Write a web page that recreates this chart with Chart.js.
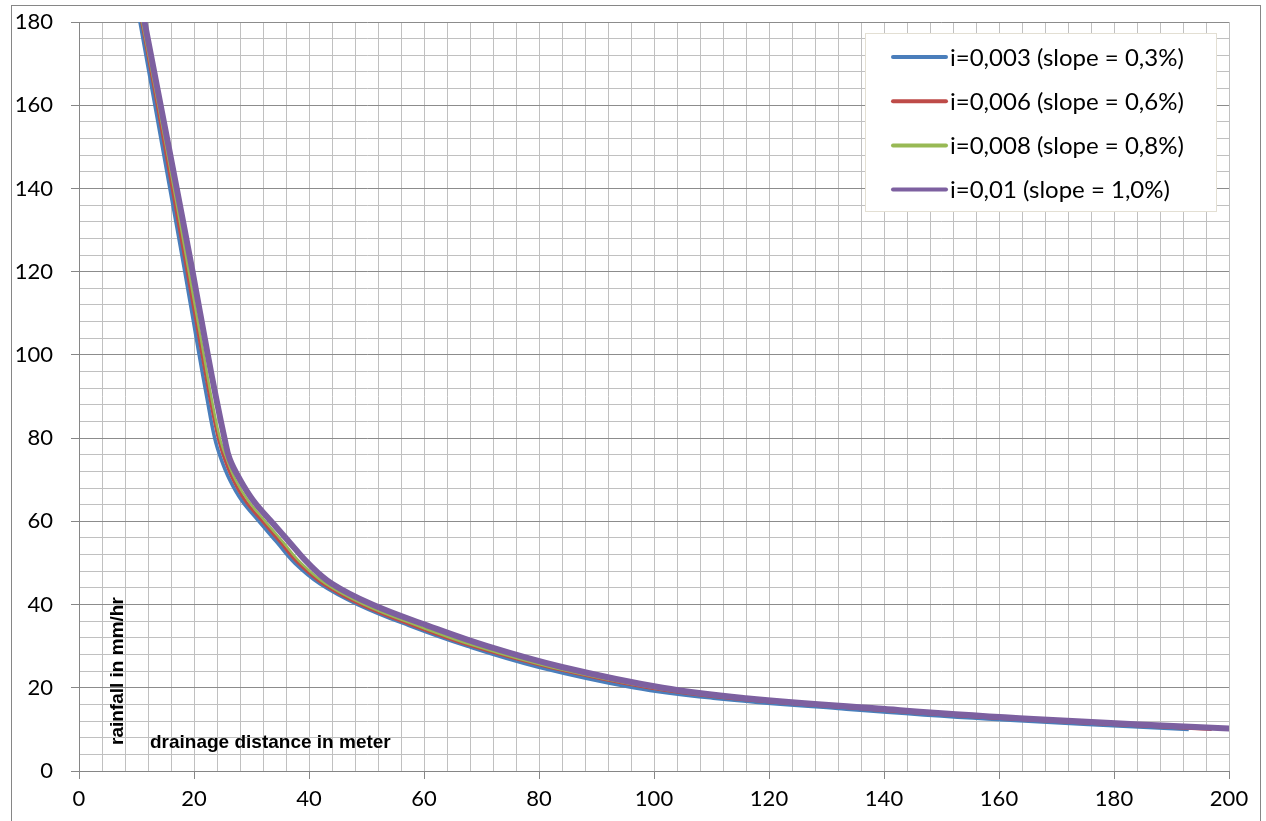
<!DOCTYPE html>
<html>
<head>
<meta charset="utf-8">
<script src="https://cdn.jsdelivr.net/npm/chart.js@4/dist/chart.umd.min.js"></script>
<style>
  html, body { margin: 0; padding: 0; background: #fff; }
  canvas { display: block; }
</style>
</head>
<body>
<canvas id="rainChart" width="1266" height="821"></canvas>
<script>
// rainfall levels (mm/hr) and drainage distance (m) for each slope
var rainfall = [190, 180, 160, 140, 120, 100, 90, 80, 75, 70, 65, 60, 55, 50, 45, 40, 35, 30, 25, 20, 17.5, 15, 12.5, 10];
var dist003 = [9.3, 10.6, 13.2, 15.8, 18.4, 20.9, 22.2, 23.6, 24.7, 26.2, 28.3, 31.3, 34.4, 37.5, 41.9, 48.5, 57.3, 67.5, 79.8, 96.5, 110.3, 132, 158, 193];
var dist006 = [9.5, 10.9, 13.6, 16.2, 18.8, 21.4, 22.7, 24.2, 25.3, 26.8, 28.9, 31.9, 35.0, 38.1, 42.4, 49.0, 58.0, 68.3, 81.5, 99, 113, 135.5, 162, 197];
var dist008 = [9.7, 11.0, 13.8, 16.5, 19.1, 21.7, 23.0, 24.5, 25.7, 27.2, 29.4, 32.4, 35.5, 38.6, 42.9, 49.6, 58.7, 69.0, 82.0, 99.8, 114, 136.5, 163.5, 200];
var dist010 = [10.0, 11.4, 14.2, 17.0, 19.75, 22.4, 23.8, 25.3, 26.2, 28.0, 30.3, 33.4, 36.6, 39.8, 44.0, 51.0, 60.5, 71.0, 84.0, 101.5, 116, 139, 166, 203];
var seriesLabels = ['i=0,003 (slope = 0,3%)', 'i=0,006 (slope = 0,6%)', 'i=0,008 (slope = 0,8%)', 'i=0,01 (slope = 1,0%)'];
var xTitle = 'drainage distance in meter';
var yTitle = 'rainfall in mm/hr';

function toPoints(dist) {
    return dist.map(function (d, i) { return { x: d, y: rainfall[i] }; });
}

var colors = ['#4a7ebb', '#be4b48', '#98b954', '#7d60a0'];
var widths = [3.5, 3, 2.5, 6];
var allDist = [dist003, dist006, dist008, dist010];

var datasets = allDist.map(function (d, i) {
    return {
        label: seriesLabels[i],
        data: toPoints(d),
        borderColor: colors[i],
        backgroundColor: colors[i],
        borderWidth: widths[i],
        showLine: true,
        pointRadius: 0,
        tension: 0.4,
        clip: 0,
        order: 4 - i
    };
});

// frame, axis titles inside plot, and boxed legend
var decorPlugin = {
    id: 'decor',
    beforeDraw: function (chart) {
        var c = chart.ctx;
        c.save();
        c.fillStyle = '#fff';
        c.fillRect(0, 0, chart.width, chart.height);
        c.strokeStyle = '#868686';
        c.lineWidth = 1;
        c.strokeRect(11.5, 5.5, 1249, 840);
        c.restore();
    },
    afterDatasetsDraw: function (chart) {
        var c = chart.ctx;
        var a = chart.chartArea;
        c.save();
        // axis titles
        c.fillStyle = '#000';
        c.font = 'bold 19px "Liberation Sans", Arial, sans-serif';
        c.textBaseline = 'alphabetic';
        c.textAlign = 'left';
        c.fillText(xTitle, a.left + 71, a.bottom - 23);
        c.translate(a.left + 44, a.bottom - 26);
        c.rotate(-Math.PI / 2);
        c.fillText(yTitle, 0, 0);
        c.restore();

        // legend
        c.save();
        var bx = 865.5, by = 33.5, bw = 351, bh = 178;
        c.fillStyle = '#fff';
        c.fillRect(bx, by, bw, bh);
        c.strokeStyle = '#e3dfd3';
        c.lineWidth = 1;
        c.strokeRect(bx, by, bw, bh);
        c.font = '24px Lato, "Open Sans", sans-serif';
        c.textBaseline = 'middle';
        c.textAlign = 'left';
        chart.data.datasets.forEach(function (ds, i) {
            var y = 57 + i * 44.2;
            c.strokeStyle = ds.borderColor;
            c.lineWidth = 4;
            c.lineCap = 'round';
            c.beginPath();
            c.moveTo(893, y);
            c.lineTo(946, y);
            c.stroke();
            c.fillStyle = '#000';
            c.fillText(ds.label, 950, y + 1);
        });
        c.restore();
    }
};

var ctx = document.getElementById('rainChart').getContext('2d');
var rainChart = new Chart(ctx, {
    type: 'scatter',
    data: { datasets: datasets },
    plugins: [decorPlugin],
    options: {
        responsive: false,
        animation: false,
        devicePixelRatio: 1,
        layout: { padding: { top: 22, right: 37, bottom: 0, left: 0 } },
        plugins: {
            legend: { display: false },
            tooltip: { enabled: false }
        },
        scales: {
            x: {
                type: 'linear',
                min: 0,
                max: 200,
                afterFit: function (s) { s.height = 50; s.paddingLeft = 0; s.paddingRight = 0; },
                border: { color: '#868686' },
                grid: {
                    color: '#c0c0c0',
                    lineWidth: 1,
                    tickLength: 8,
                    tickColor: function (c) { return c.tick && c.tick.value % 20 === 0 ? '#868686' : 'rgba(0,0,0,0)'; }
                },
                ticks: {
                    stepSize: 4,
                    autoSkip: false,
                    maxRotation: 0,
                    padding: 7,
                    color: '#000',
                    font: { family: 'Lato, "Open Sans", sans-serif', size: 22 },
                    callback: function (v) { return v % 20 === 0 ? String(v) : ''; }
                }
            },
            y: {
                type: 'linear',
                min: 0,
                max: 180,
                afterFit: function (s) { s.width = 79; s.paddingTop = 0; s.paddingBottom = 0; },
                border: { color: '#868686' },
                grid: {
                    color: function (c) { return c.tick && c.tick.value % 20 === 0 ? '#8c8c8c' : '#c0c0c0'; },
                    lineWidth: 1,
                    tickLength: 8,
                    tickColor: function (c) { return c.tick && c.tick.value % 20 === 0 ? '#868686' : 'rgba(0,0,0,0)'; }
                },
                ticks: {
                    stepSize: 4,
                    autoSkip: false,
                    padding: 18,
                    color: '#000',
                    font: { family: 'Lato, "Open Sans", sans-serif', size: 22 },
                    callback: function (v) { return v % 20 === 0 ? String(v) : ''; }
                }
            }
        }
    }
});
</script>
</body>
</html>
